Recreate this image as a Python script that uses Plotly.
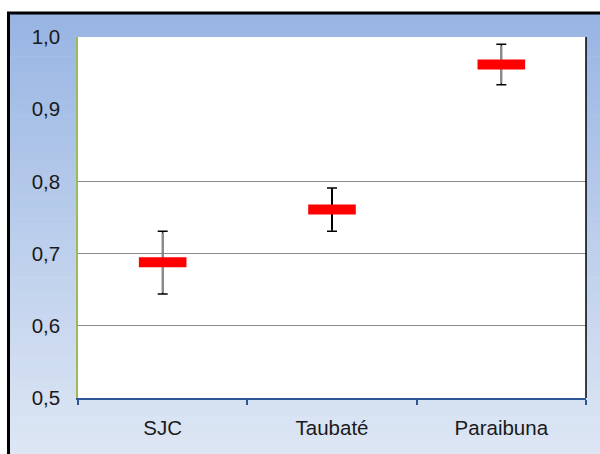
import plotly.graph_objects as go

# Site names and the mean value at each site, with asymmetric error margins
sites = ["SJC", "Taubaté", "Paraibuna"]
means = [0.688, 0.761, 0.962]
err_plus = [0.043, 0.030, 0.028]
err_minus = [0.044, 0.030, 0.028]

# y-axis ticks and the levels that carry a gridline
y_ticks = [0.5, 0.6, 0.7, 0.8, 0.9, 1.0]
grid_levels = [0.6, 0.7, 0.8]

# stem colour for each site (caps are always black)
stem_colors = ["#8a8a8a", "#000000", "#8a8a8a"]

W, H = 600, 454
M_L, M_R, M_T, M_B = 78, 14, 37, 56
plot_w = W - M_L - M_R
plot_h = H - M_T - M_B


def px_to_paper_x(px):
    return (px - M_L) / plot_w


def px_to_paper_y(py):
    return (H - M_B - py) / plot_h


fig = go.Figure()

# black stems with caps
fig.add_trace(go.Scatter(
    x=sites, y=means, mode="markers",
    marker=dict(size=1, color="rgba(0,0,0,0)"),
    error_y=dict(type="data", symmetric=False, array=err_plus,
                 arrayminus=err_minus, color="#000000", thickness=1.5, width=5),
    showlegend=False, hoverinfo="skip",
))

# softer stems drawn over the black ones
for site, m, ep, em, c in zip(sites, means, err_plus, err_minus, stem_colors):
    fig.add_trace(go.Scatter(
        x=[site], y=[m], mode="markers",
        marker=dict(size=1, color="rgba(0,0,0,0)"),
        error_y=dict(type="data", symmetric=False, array=[ep - 0.002],
                     arrayminus=[em - 0.002], color=c, thickness=2, width=0),
        showlegend=False, hoverinfo="skip",
    ))

# red bar markers for the means (line-ew spans 2.8 x size/2 px)
fig.add_trace(go.Scatter(
    x=sites, y=means, mode="markers",
    marker=dict(symbol="line-ew", size=34,
                line=dict(width=10, color="#FF0000"), color="#FF0000"),
    showlegend=False,
))

# helper axis that only draws the horizontal gridlines
fig.add_trace(go.Scatter(x=[sites[0]], y=[0.5], yaxis="y2",
                         mode="markers", marker=dict(opacity=0),
                         showlegend=False, hoverinfo="skip"))

shapes = []

# vertical blue gradient behind the chart
top_rgb = (152, 181, 227)
bot_rgb = (221, 230, 244)
y_top_px, y_bot_px = 12, H
n_bands = 60
for i in range(n_bands):
    t = i / (n_bands - 1)
    r = round(top_rgb[0] + (bot_rgb[0] - top_rgb[0]) * t)
    g = round(top_rgb[1] + (bot_rgb[1] - top_rgb[1]) * t)
    b = round(top_rgb[2] + (bot_rgb[2] - top_rgb[2]) * t)
    y0 = y_top_px + (y_bot_px - y_top_px) * i / n_bands
    y1 = y_top_px + (y_bot_px - y_top_px) * (i + 1) / n_bands + 0.6
    shapes.append(dict(
        type="rect", xref="paper", yref="paper", layer="below",
        x0=px_to_paper_x(8), x1=px_to_paper_x(W + 2),
        y0=px_to_paper_y(y0), y1=px_to_paper_y(y1),
        fillcolor=f"rgb({r},{g},{b})", line=dict(width=0),
    ))

# white plotting area
shapes.append(dict(type="rect", xref="paper", yref="paper", layer="below",
                   x0=0, x1=1, y0=0, y1=1, fillcolor="white",
                   line=dict(width=0)))

# outer frame
shapes.append(dict(type="rect", xref="paper", yref="paper", layer="above",
                   x0=px_to_paper_x(8.5), x1=px_to_paper_x(W + 10),
                   y0=px_to_paper_y(H + 10), y1=px_to_paper_y(13),
                   line=dict(color="black", width=3), fillcolor="rgba(0,0,0,0)"))

# right edge of the plotting area
shapes.append(dict(type="line", xref="paper", yref="paper", layer="above",
                   x0=1, x1=1, y0=0, y1=1, line=dict(color="black", width=1.5)))

font = dict(family="Liberation Sans, Arial, sans-serif", size=20.5, color="#1a1a1a")

fig.update_layout(
    width=W, height=H,
    margin=dict(l=M_L, r=M_R, t=M_T, b=M_B),
    paper_bgcolor="white",
    plot_bgcolor="rgba(0,0,0,0)",
    separators=", ",
    font=font,
    shapes=shapes,
    showlegend=False,
    xaxis=dict(
        type="category", categoryorder="array", categoryarray=sites,
        range=[-0.5, 2.5], showgrid=False, zeroline=False,
        showline=True, linecolor="#2F5597", linewidth=1.5,
        ticks="outside", tickson="boundaries", ticklen=5,
        tickcolor="#2F5597", tickwidth=1.5,
        ticklabelstandoff=11, tickfont=font,
    ),
    yaxis=dict(
        range=[0.5, 1.0], tickvals=y_ticks, tickformat=".1f",
        showgrid=False, zeroline=False,
        showline=True, linecolor="#9BBB59", linewidth=1.5,
        ticks="", ticklabelstandoff=12, tickfont=font,
    ),
    yaxis2=dict(
        range=[0.5, 1.0], overlaying="y", tickvals=grid_levels,
        showgrid=True, gridcolor="#8a8a8a", gridwidth=1,
        showticklabels=False, zeroline=False, showline=False,
    ),
)

fig.write_html("out.html")
